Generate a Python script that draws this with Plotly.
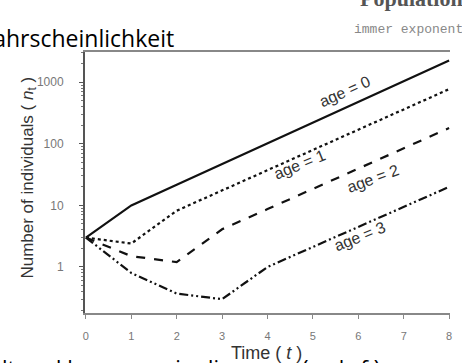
import plotly.graph_objects as go

time = [0, 1, 2, 3, 4, 5, 6, 7, 8]
age0 = [3, 10, 21.6, 46.7, 101, 218, 471, 1017, 2250]
age1 = [3, 2.4, 8.2, 17.5, 37, 80, 172, 365, 770]
age2 = [3, 1.5, 1.2, 4.1, 8.7, 18.5, 40, 86, 180]
age3 = [3, 0.8, 0.37, 0.3, 1.0, 2.1, 4.5, 9.5, 20]

x_ticks = [0, 1, 2, 3, 4, 5, 6, 7, 8]
y_ticks = [1, 10, 100, 1000]
y_tick_labels = ["1", "10", "100", "1000"]

series = [
    (age0, "solid", "age = 0"),
    (age1, "dot", "age = 1"),
    (age2, "dash", "age = 2"),
    (age3, "9px,3px,2px,3px,2px,3px", "age = 3"),
]

# label positions (data coords, y in log10 units) and angles
labels = [
    ("age = 0", 5.70, 2.846, -24),
    ("age = 1", 4.71, 1.656, -22),
    ("age = 2", 6.33, 1.44, -20),
    ("age = 3", 6.03, 0.492, -22),
]

fig = go.Figure()
for vals, dash, name in series:
    fig.add_trace(go.Scatter(
        x=time, y=vals, mode="lines", name=name,
        line=dict(color="#111111", width=2.2, dash=dash),
        showlegend=False, hoverinfo="skip",
    ))

for text, x, y, ang in labels:
    fig.add_annotation(x=x, y=y, xref="x", yref="y", text=text, showarrow=False,
                       xanchor="center", yanchor="middle",
                       textangle=ang, font=dict(family="Arial", size=16, color="#333333"))

# axis titles
fig.add_annotation(x=-0.156, y=0.519, xref="paper", yref="paper",
                   xanchor="center", yanchor="middle",
                   text="Number of individuals ( <i>n</i><sub>t</sub> )", showarrow=False,
                   textangle=-90, font=dict(family="Arial", size=17, color="#333333"))
fig.add_annotation(x=0.4986, y=-0.153, xref="paper", yref="paper",
                   xanchor="center", yanchor="middle",
                   text="Time ( <i>t</i> )", showarrow=False,
                   font=dict(family="Arial", size=18, color="#333333"))

# surrounding slide text
fig.add_annotation(x=0.249, y=0.985, xref="paper", yref="paper", xanchor="right", yanchor="bottom",
                   text="Wahrscheinlichkeit", showarrow=False,
                   font=dict(family="Open Sans", size=23, color="#000000"))
fig.add_annotation(x=1.04, y=1.15, xref="paper", yref="paper", xanchor="right", yanchor="bottom",
                   text="<b>Population</b>", showarrow=False,
                   font=dict(family="Liberation Serif", size=22, color="#555555"))
fig.add_annotation(x=1.04, y=1.05, xref="paper", yref="paper", xanchor="right", yanchor="bottom",
                   text="immer exponent", showarrow=False,
                   font=dict(family="Liberation Mono", size=13, color="#888888"))
fig.add_annotation(x=-0.233, y=-0.14, xref="paper", yref="paper", xanchor="left", yanchor="top",
                   text="lt und besonnen in die", showarrow=False,
                   font=dict(family="Open Sans", size=22, color="#000000"))
fig.add_annotation(x=0.59, y=-0.14, xref="paper", yref="paper", xanchor="left", yanchor="top",
                   text="(e als f.)", showarrow=False,
                   font=dict(family="Open Sans", size=22, color="#000000"))

fig.update_xaxes(
    range=[-0.02, 8.02], tickvals=x_ticks, ticks="outside", ticklen=4, tickcolor="#888888",
    showline=True, linecolor="#888888", linewidth=2, mirror=True, showgrid=False, zeroline=False,
    tickfont=dict(family="Arial", size=11, color="#777777"), automargin=False,
    ticklabelstandoff=8,
)
fig.update_yaxes(
    type="log", range=[-0.747, 3.49], tickvals=y_ticks, ticktext=y_tick_labels,
    ticks="outside", ticklen=4, tickcolor="#555555",
    minor=dict(dtick="D1", ticks="outside", ticklen=2, tickcolor="#777777", showgrid=False),
    showline=True, linecolor="#555555", linewidth=2, mirror=False, showgrid=False, zeroline=False,
    tickfont=dict(family="Arial", size=12, color="#777777"), automargin=False,
    ticklabelstandoff=13,
)

fig.update_layout(
    width=462, height=363,
    margin=dict(l=85, r=12, t=52, b=50, autoexpand=False),
    paper_bgcolor="white", plot_bgcolor="white",
    hovermode=False,
)
fig.write_html("out.html", config={"displayModeBar": False},
               post_script="document.body.style.margin='0';document.body.style.overflow='hidden';")
